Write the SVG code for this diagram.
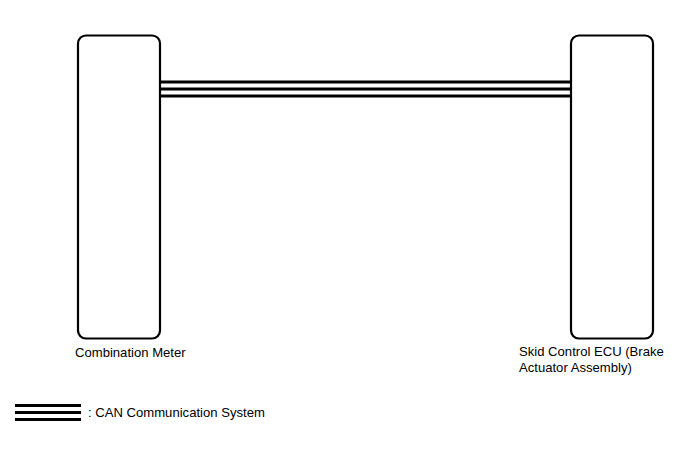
<svg xmlns="http://www.w3.org/2000/svg" width="688" height="463" viewBox="0 0 688 463">
<style>
.box{fill:#fff;stroke:#000;stroke-width:2.2}
.can{stroke:#000;stroke-width:3;fill:none}
text{font-family:"Liberation Sans",Arial,sans-serif;font-size:13.1px;fill:#000}
</style>
<rect width="688" height="463" fill="#fff"/>
<g id="connectors">
<line class="can" x1="160" y1="82" x2="571" y2="82"/>
<line class="can" x1="160" y1="89" x2="571" y2="89"/>
<line class="can" x1="160" y1="96" x2="571" y2="96"/>
</g>
<g id="combination-meter">
<rect class="box" x="78" y="35.5" width="82" height="303" rx="8"/>
<text x="75" y="357">Combination Meter</text>
</g>
<g id="skid-control-ecu">
<rect class="box" x="571" y="35.5" width="82" height="303" rx="8"/>
<text x="519" y="356">Skid Control ECU (Brake</text>
<text x="519" y="372">Actuator Assembly)</text>
</g>
<g id="legend">
<line class="can" x1="15" y1="405.5" x2="81" y2="405.5"/>
<line class="can" x1="15" y1="412.5" x2="81" y2="412.5"/>
<line class="can" x1="15" y1="419.5" x2="81" y2="419.5"/>
<text x="88" y="417">: CAN Communication System</text>
</g>
</svg>
